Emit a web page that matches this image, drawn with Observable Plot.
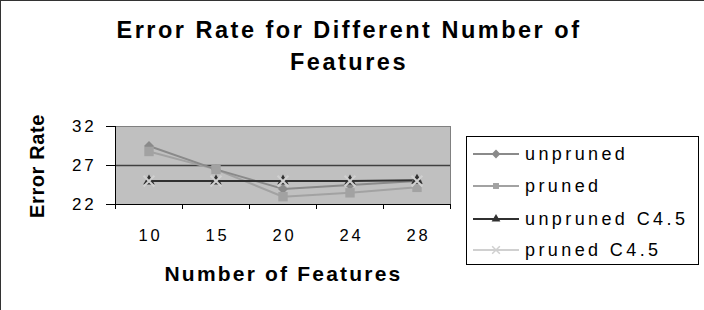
<!DOCTYPE html>
<html>
<head>
<meta charset="utf-8">
<script src="https://cdn.jsdelivr.net/npm/d3@7"></script>
<script src="https://cdn.jsdelivr.net/npm/@observablehq/plot@0.6"></script>
<style>
  html, body { margin: 0; padding: 0; background: #fff; }
  #wrap { position: relative; width: 704px; height: 310px; overflow: hidden; font-family: "Liberation Sans", Arial, sans-serif; color: #000; }
  #frameTL { position: absolute; left: 0; top: 0; width: 720px; height: 330px; border-left: 1px solid #333; border-top: 1px solid #333; box-sizing: border-box; pointer-events: none; }
  #title { position: absolute; left: 0; width: 698px; top: 14px; text-align: center; font-weight: bold; font-size: 23.5px; line-height: 32px; letter-spacing: 2.5px; white-space: nowrap; }
  #ylab { position: absolute; left: 37px; top: 166px; transform: translate(-50%, -50%) rotate(-90deg); font-weight: bold; font-size: 20px; letter-spacing: 0.6px; white-space: nowrap; }
  #xlab { position: absolute; left: 0; width: 567px; top: 262px; text-align: center; font-weight: bold; font-size: 21px; letter-spacing: 2.2px; white-space: nowrap; }
  #legend { position: absolute; left: 466px; top: 136px; width: 233px; height: 129px; border: 1px solid #000; box-sizing: border-box; background: #fff; }
  .item { position: absolute; left: 6px; height: 28px; display: flex; align-items: center; font-size: 18px; letter-spacing: 3.4px; white-space: nowrap; }
  .item svg { margin-right: 6px; }
  #plot { position: absolute; left: 0; top: 0; }
  #plot svg text { letter-spacing: 2.8px; }
</style>
</head>
<body>
<div id="wrap">
  <div id="plot"></div>
  <div id="title">Error Rate for Different Number of<br>Features</div>
  <div id="ylab">Error Rate</div>
  <div id="xlab">Number of Features</div>
  <div id="legend"></div>
  <div id="frameTL"></div>
</div>
<script>
// ---- data ----
const features = ["10", "15", "20", "24", "28"];
const seriesNames = ["unpruned", "pruned", "unpruned C4.5", "pruned C4.5"];
const unpruned    = [29.5, 26.5, 24.0, 24.5, 25.0];
const pruned      = [28.8, 26.5, 23.0, 23.5, 24.2];
const unprunedC45 = [25.0, 25.0, 25.0, 25.0, 25.1];
const prunedC45   = [25.0, 25.0, 25.0, 25.0, 25.0];
const yTicks = [22, 27, 32];

// ---- styles ----
const colors  = ["#8a8a8a", "#a2a2a2", "#303030", "#d0d0d0"];
const symbols = ["diamond2", "square2", "triangle2", "times"];
const sizes   = [4.5, 6, 5.5, 5];
const lineOrder = [3, 1, 0, 2]; // draw the light C4.5 line beneath the dark one

const values = [unpruned, pruned, unprunedC45, prunedC45];
const rows = [];
seriesNames.forEach((s, k) => {
  values[k].forEach((v, i) => rows.push({series: s, k, idx: i + 0.5, feature: features[i], value: v}));
});

const lineMarks = lineOrder.map(k => Plot.line(rows.filter(r => r.k === k), {
  x: "idx", y: "value", stroke: colors[k], strokeWidth: k === 3 ? 1.5 : 2
}));

const dotMarks = seriesNames.map((s, k) => {
  const d = rows.filter(r => r.k === k);
  const isStroke = symbols[k] === "times";
  return Plot.dot(d, {
    x: "idx", y: "value", symbol: () => symbols[k], r: sizes[k],
    fill: isStroke ? "none" : colors[k],
    stroke: isStroke ? colors[k] : "none",
    strokeWidth: isStroke ? 2 : 0
  });
});

const chart = Plot.plot({
  width: 704,
  height: 310,
  marginLeft: 115,
  marginRight: 254,
  marginTop: 126,
  marginBottom: 106,
  style: {fontFamily: "'Liberation Sans', Arial, sans-serif", fontSize: "16px", color: "#000", background: "transparent"},
  x: {type: "linear", domain: [0, features.length], axis: null},
  y: {domain: [yTicks[0], yTicks[yTicks.length - 1]], axis: null},
  symbol: {domain: seriesNames, range: symbols},
  marks: [
    Plot.frame({fill: "#c0c0c0", stroke: "#808080"}),
    Plot.gridY(yTicks.slice(1, -1), {stroke: "#404040", strokeOpacity: 1, strokeWidth: 1.5}),
    Plot.axisY({ticks: yTicks, tickSize: 9, tickPadding: 10, fontSize: 17, label: null, stroke: "#000"}),
    Plot.axisX({ticks: d3.range(features.length + 1), tickSize: 5, tickFormat: () => "", label: null, stroke: "#000"}),
    Plot.axisX({ticks: features.map((f, i) => i + 0.5), tickSize: 0, tickPadding: 25, fontSize: 16.5,
      tickFormat: v => features[Math.round(v - 0.5)], label: null, dx: 1.4}),
    Plot.ruleX([0], {stroke: "#000"}),
    Plot.ruleY([yTicks[0]], {stroke: "#000"}),
    ...lineMarks,
    ...dotMarks
  ]
});
document.getElementById("plot").appendChild(chart);

// ---- legend ----
const legend = document.getElementById("legend");
const tops = [3, 35, 68, 99];
const symTypes = {diamond2: d3.symbolDiamond2, square2: d3.symbolSquare2, triangle2: d3.symbolTriangle2, times: d3.symbolTimes};
seriesNames.forEach((s, k) => {
  const item = document.createElement("div");
  item.className = "item";
  item.style.top = tops[k] + "px";
  const path = d3.symbol(symTypes[symbols[k]], [50, 45, 55, 40][k])();
  const isStroke = symbols[k] === "times";
  item.innerHTML = `<svg width="46" height="14" viewBox="0 0 46 14">
    <line x1="0" x2="46" y1="7" y2="7" stroke="${colors[k]}" stroke-width="2"/>
    <path transform="translate(23,7)" d="${path}" fill="${isStroke ? "none" : colors[k]}" stroke="${isStroke ? colors[k] : "none"}" stroke-width="1.5"/>
  </svg><span>${s}</span>`;
  legend.appendChild(item);
});
</script>
</body>
</html>
